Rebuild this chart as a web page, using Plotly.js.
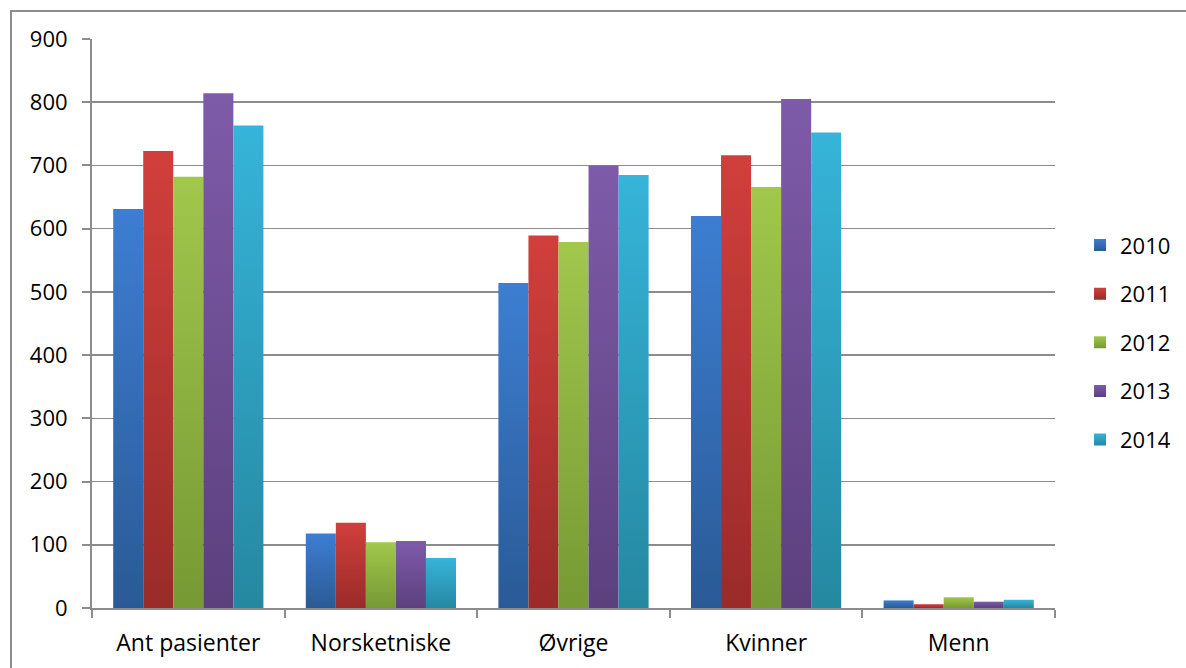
<!DOCTYPE html>
<html>
<head>
<meta charset="utf-8">
<script src="https://cdn.plot.ly/plotly-3.0.1.min.js"></script>
<style>
  html, body { margin: 0; padding: 0; background: #ffffff; }
  #wrap { position: relative; width: 1186px; height: 668px; overflow: hidden; }
  #chart { position: absolute; left: 0; top: 0; width: 1186px; height: 668px; }
  #frame { position: absolute; left: 10px; top: 10px; width: 1200px; height: 700px;
           border-left: 2px solid #8c8c8c; border-top: 2px solid #8c8c8c; pointer-events: none; }
</style>
</head>
<body>
<div id="wrap">
  <div id="chart"></div>
  <div id="frame"></div>
</div>
<script>
const categories = ["Ant pasienter", "Norsketniske", "Øvrige", "Kvinner", "Menn"];
const years = ["2010", "2011", "2012", "2013", "2014"];
const values2010 = [631, 118, 514, 620, 12];
const values2011 = [723, 135, 589, 716, 6];
const values2012 = [682, 104, 579, 666, 17];
const values2013 = [814, 106, 700, 805, 10];
const values2014 = [763, 79, 685, 752, 13];
const seriesValues = [values2010, values2011, values2012, values2013, values2014];
const yTicks = [0, 100, 200, 300, 400, 500, 600, 700, 800, 900];

const midColors = ["#3469b3", "#b53533", "#8bb040", "#6c4d93", "#2e9ebd"];
const topColors = ["#3d7ed2", "#d13f3c", "#a1c74c", "#7e5ba9", "#36b4d9"];
const botColors = ["#2a5a96", "#992b29", "#769934", "#5c407e", "#2588a1"];

const FONT = "'Open Sans', Carlito, 'Liberation Sans', sans-serif";

const traces = years.map((yr, i) => ({
  type: "bar",
  name: yr,
  x: categories,
  y: seriesValues[i],
  legendgroup: "g" + i,
  marker: { color: midColors[i], line: { width: 0 } },
  hoverinfo: "x+y+name"
}));

const layout = {
  width: 1186,
  height: 668,
  margin: { l: 92, r: 131, t: 39, b: 60, autoexpand: false },
  paper_bgcolor: "#ffffff",
  plot_bgcolor: "#ffffff",
  barmode: "group",
  bargap: 0.22,
  bargroupgap: 0,
  font: { family: FONT, size: 22, color: "#000000" },
  showlegend: true,
  legend: {
    x: 1.026, xanchor: "left",
    y: 0.467, yanchor: "middle",
    traceorder: "grouped",
    tracegroupgap: 17,
    font: { family: FONT, size: 22, color: "#000000" },
    itemwidth: 30,
    bgcolor: "rgba(0,0,0,0)"
  },
  xaxis: {
    type: "category",
    showgrid: false,
    showline: true,
    linecolor: "#8c8c8c",
    linewidth: 2,
    ticks: "outside",
    tickson: "boundaries",
    ticklen: 8,
    tickwidth: 2,
    tickcolor: "#8c8c8c",
    ticklabelstandoff: 13,
    tickfont: { family: FONT, size: 23, color: "#000000" },
    zeroline: false
  },
  yaxis: {
    range: [0, 900],
    tickvals: yTicks,
    ticktext: yTicks.map(String),
    showgrid: true,
    gridcolor: "#8c8c8c",
    gridwidth: 1.5,
    showline: true,
    linecolor: "#8c8c8c",
    linewidth: 2,
    ticks: "outside",
    ticklen: 8,
    tickwidth: 2,
    tickcolor: "#8c8c8c",
    ticklabelstandoff: 10,
    tickfont: { family: FONT, size: 22, color: "#000000" },
    zeroline: false,
    fixedrange: true
  }
};

function applyGradients(gd) {
  const svg = gd.querySelector("svg.main-svg");
  if (!svg) return;
  let defs = svg.querySelector("defs");
  if (!defs) {
    defs = document.createElementNS("http://www.w3.org/2000/svg", "defs");
    svg.insertBefore(defs, svg.firstChild);
  }
  years.forEach((yr, i) => {
    const id = "barGrad" + i;
    if (!svg.querySelector("#" + id)) {
      const g = document.createElementNS("http://www.w3.org/2000/svg", "linearGradient");
      g.setAttribute("id", id);
      g.setAttribute("x1", "0"); g.setAttribute("y1", "0");
      g.setAttribute("x2", "0"); g.setAttribute("y2", "1");
      const s1 = document.createElementNS("http://www.w3.org/2000/svg", "stop");
      s1.setAttribute("offset", "0"); s1.setAttribute("stop-color", topColors[i]);
      const s2 = document.createElementNS("http://www.w3.org/2000/svg", "stop");
      s2.setAttribute("offset", "1"); s2.setAttribute("stop-color", botColors[i]);
      g.appendChild(s1); g.appendChild(s2);
      defs.appendChild(g);
    }
  });
  const barTraces = gd.querySelectorAll(".barlayer .trace.bars");
  barTraces.forEach((t, i) => {
    t.querySelectorAll("path").forEach(p => { p.style.fill = "url(#barGrad" + i + ")"; });
  });
  const legendItems = gd.querySelectorAll(".legend .traces");
  legendItems.forEach((t, i) => {
    t.querySelectorAll(".legendpoints path").forEach(p => { p.style.fill = "url(#barGrad" + i + ")"; });
  });
}

const gd = document.getElementById("chart");
Plotly.newPlot(gd, traces, layout, { displayModeBar: false, staticPlot: true }).then(() => {
  applyGradients(gd);
  gd.on("plotly_afterplot", () => applyGradients(gd));
});
</script>
</body>
</html>
